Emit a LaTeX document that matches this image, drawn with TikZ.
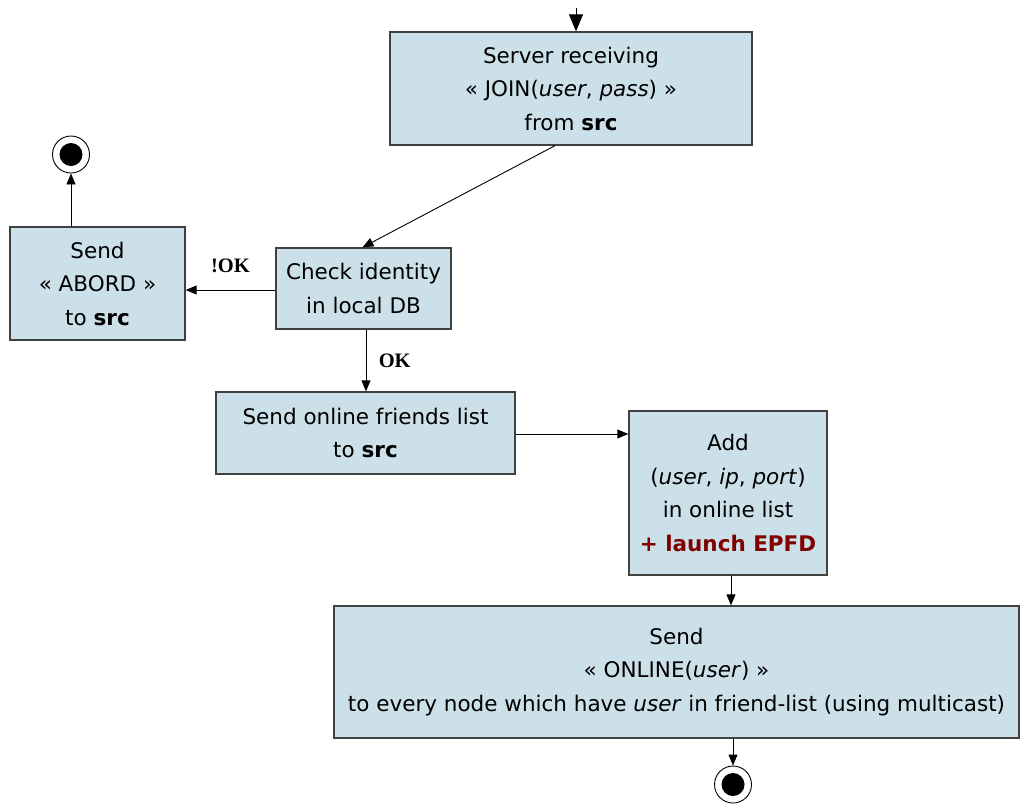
\documentclass[tikz,border=0pt]{standalone}
\usepackage{fontspec}
\setmainfont{DejaVu Sans}
\newfontfamily\guardfont{Liberation Serif}
\usetikzlibrary{arrows.meta,positioning}
\definecolor{actfill}{RGB}{204,224,234}
\definecolor{actline}{RGB}{64,64,64}
\definecolor{epfdred}{RGB}{128,0,0}

\begin{document}
\begin{tikzpicture}[x=1pt, y=-1pt,
    act/.style={draw=actline, line width=1.3pt, fill=actfill, align=center, font=\fontsize{21.5}{33.5}\selectfont, inner sep=0pt},
    arr/.style={-{Triangle[length=11pt, width=9pt]}, line width=0.9pt},
    guard/.style={font=\guardfont\bfseries\fontsize{20.5}{22}\selectfont},
    final/.style={circle, draw, line width=0.9pt, minimum size=37pt, inner sep=0pt}
]
\useasboundingbox (0,0) rectangle (1020,804);

% activities
\node[act, minimum width=362pt, minimum height=113pt] (recv) at (571,88.5)
    {Server receiving\\« JOIN(\textit{user}, \textit{pass}) »\\from \textbf{src}};
\node[act, minimum width=175pt, minimum height=81pt] (check) at (363.5,288.5)
    {Check identity\\in local DB};
\node[act, minimum width=175pt, minimum height=113pt] (abord) at (97.5,283.5)
    {Send\\« ABORD »\\to \textbf{src}};
\node[act, minimum width=299pt, minimum height=82pt] (friends) at (365.5,433)
    {Send online friends list\\to \textbf{src}};
\node[act, minimum width=198pt, minimum height=164pt] (add) at (728,493)
    {Add\\(\textit{user}, \textit{ip}, \textit{port})\\in online list\\\textcolor{epfdred}{\textbf{+ launch EPFD}}};
\node[act, minimum width=685pt, minimum height=132pt] (online) at (676.5,672)
    {Send\\« ONLINE(\textit{user}) »\\to every node which have \textit{user} in friend-list (using multicast)};

% final states
\node[final] (endabord) at (71,154.5) {};
\fill (endabord.center) circle (11.5pt);
\node[final] (endok) at (733,784.5) {};
\fill (endok.center) circle (11.5pt);

% flow
\coordinate (entry) at (576,8);
\draw[-{Triangle[length=17pt, width=14pt]}, line width=0.9pt] (entry) -- (entry |- recv.north);
\draw[arr] ([xshift=-16pt]recv.south) -- ([xshift=-1pt]check.north);
\draw[arr] (check.west |- 0,290) -- (abord.east |- 0,290) node[guard, midway, above=13pt] {!OK};
\draw[arr] (endabord |- abord.north) -- (endabord);
\draw[arr] ([xshift=2.5pt]check.south) -- ([xshift=0.5pt]friends.north |- friends.north) node[guard, midway, right=9pt] {OK};
\draw[arr] (friends.east |- 0,434) -- (add.west |- 0,434);
\draw[arr] ([xshift=3pt]add.south) -- ([xshift=54.5pt]online.north);
\draw[arr] (endok |- online.south) -- (endok);
\end{tikzpicture}
\end{document}
